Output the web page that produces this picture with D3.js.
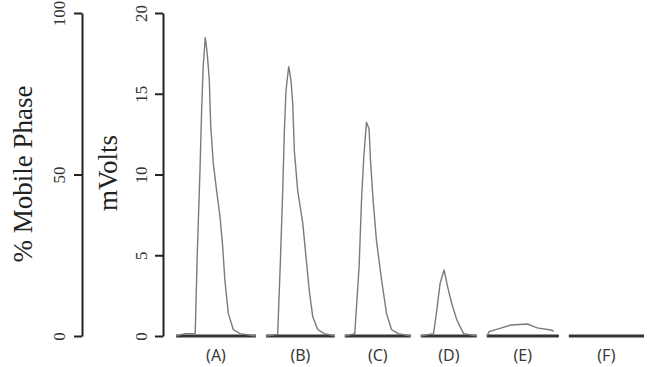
<!DOCTYPE html>
<html>
<head>
<meta charset="utf-8">
<title></title>
<style type="text/css">
body { margin: 0; background: #fff; }
.axis text { font-family: "Liberation Serif", serif; font-size: 17px; fill: #333; }
.axis path, .axis line { stroke: #222; stroke-width: 2; }
.title { font-family: "Liberation Serif", serif; font-size: 27px; fill: #222; }
.panel-label { font-family: "Noto Sans", sans-serif; font-size: 16px; fill: #3a3a3a; }
.trace { fill: none; stroke: #7a7a7a; stroke-width: 1.4; }
.base { stroke: #333; stroke-width: 3; }
</style>
</head>
<body>
<svg width="647" height="367"></svg>
<script src="https://d3js.org/d3.v7.min.js"></script>
<script type="text/javascript">
// chromatograms (time in min from panel start, signal in mV)
var panelNames = ["(A)", "(B)", "(C)", "(D)", "(E)", "(F)"];
var panelSpan = [10, 8.6, 8.25, 7, 9, 9.4];

var timeA = [0, 1.1, 2.4, 2.66, 3.0, 3.2, 3.4, 3.66, 3.9, 4.16, 4.34, 4.66, 5.1, 5.5, 5.84, 6.1, 6.54, 7.16, 8.0, 10];
var voltA = [0, 0.15, 0.15, 5.1, 10.3, 13.9, 16.7, 18.5, 17.5, 15.9, 13.0, 10.7, 8.9, 7.4, 5.5, 3.5, 1.4, 0.4, 0.15, 0];

var timeB = [0, 1.46, 1.79, 2.09, 2.29, 2.5, 2.84, 3.13, 3.34, 3.54, 3.96, 4.59, 5.0, 5.41, 5.84, 6.46, 7.29, 8.6];
var voltB = [0, 0.1, 4.5, 9.0, 12.6, 15.2, 16.7, 15.8, 14.4, 11.5, 9.0, 7.0, 4.9, 2.8, 1.2, 0.4, 0.15, 0];

var timeC = [0, 1.25, 1.46, 1.79, 2.09, 2.375, 2.71, 3.04, 3.21, 3.54, 3.96, 4.59, 5.21, 5.84, 6.66, 8.25];
var voltC = [0, 0.15, 1.8, 4.3, 8.4, 11.1, 13.25, 12.8, 10.9, 8.4, 5.9, 3.5, 1.4, 0.4, 0.15, 0];

var timeD = [0, 1.59, 2.0, 2.41, 2.91, 3.375, 3.875, 4.5, 5.34, 7];
var voltD = [0, 0.15, 1.6, 3.25, 4.1, 3.0, 2.0, 1.0, 0.15, 0];

var timeE = [0, 0.3, 1.34, 3.0, 5.1, 6.3, 8.0, 8.4];
var voltE = [0, 0.27, 0.43, 0.68, 0.74, 0.5, 0.37, 0.3];

var timeF = [0, 9.4];
var voltF = [0, 0];

var mobileTicks = [0, 50, 100];
var voltTicks = [0, 5, 10, 15, 20];

var traces = [[timeA, voltA], [timeB, voltB], [timeC, voltC], [timeD, voltD], [timeE, voltE], [timeF, voltF]];

var svg = d3.select("svg"),
    yTop = 13, yBottom = 336,
    pxPerMin = 8, gap = 10, startX = 176;

var yMobile = d3.scaleLinear().domain([0, 100]).range([yBottom, yTop]);
var yVolt = d3.scaleLinear().domain([0, 20]).range([yBottom, yTop]);

// left axis: % mobile phase
var gm = svg.append("g").attr("class", "axis")
    .attr("transform", "translate(82,0)")
    .call(d3.axisLeft(yMobile).tickValues(mobileTicks).tickSize(8).tickSizeOuter(0));
gm.selectAll("text")
    .attr("x", null).attr("dy", null)
    .attr("text-anchor", "middle")
    .attr("transform", "translate(-17,0) rotate(-90)");

// second axis: mVolts
var gv = svg.append("g").attr("class", "axis")
    .attr("transform", "translate(163,0)")
    .call(d3.axisLeft(yVolt).tickValues(voltTicks).tickSize(8).tickSizeOuter(0));
gv.selectAll("text")
    .attr("x", null).attr("dy", null)
    .attr("text-anchor", "middle")
    .attr("transform", "translate(-16,0) rotate(-90)");

svg.append("text").attr("class", "title")
    .attr("text-anchor", "middle")
    .attr("transform", "translate(32,174) rotate(-90)")
    .text("% Mobile  Phase");

svg.append("text").attr("class", "title")
    .attr("text-anchor", "middle")
    .attr("transform", "translate(117,173) rotate(-90)")
    .text("mVolts");

// panels
var x0 = startX;
traces.forEach(function(tr, i) {
    var x = d3.scaleLinear().domain([0, panelSpan[i]]).range([x0, x0 + panelSpan[i] * pxPerMin]);
    var pts = tr[0].map(function(t, j) { return [t, tr[1][j]]; });
    var line = d3.line()
        .x(function(d) { return x(d[0]); })
        .y(function(d) { return yVolt(d[1]); });

    svg.append("line").attr("class", "base")
        .attr("x1", x(0)).attr("x2", x(panelSpan[i]))
        .attr("y1", yVolt(0)).attr("y2", yVolt(0));

    if (i < 5) {
        svg.append("path").attr("class", "trace")
            .attr("d", line(pts));
    }

    svg.append("text").attr("class", "panel-label")
        .attr("text-anchor", "middle")
        .attr("x", x(panelSpan[i] / 2))
        .attr("y", 361)
        .text(panelNames[i]);

    x0 += panelSpan[i] * pxPerMin + gap;
});
</script>
</body>
</html>
